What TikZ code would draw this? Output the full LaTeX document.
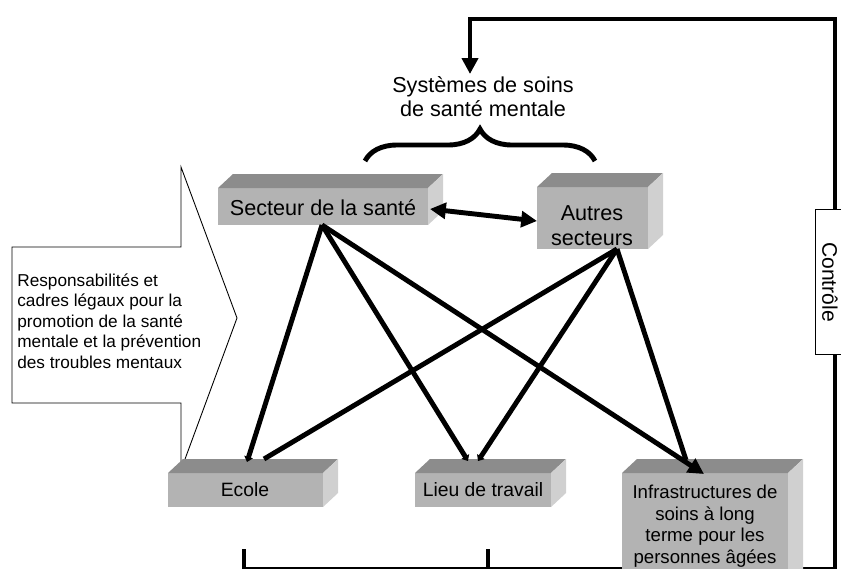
\documentclass[tikz,border=0pt]{standalone}
\usepackage{fontspec}
\setmainfont{Liberation Sans}
\usetikzlibrary{arrows.meta,decorations.pathreplacing}
\definecolor{topgray}{HTML}{8C8C8C}
\definecolor{frontgray}{HTML}{B3B3B3}
\definecolor{sidegray}{HTML}{D0D0D0}
\newcommand\slab[4]{%
  \fill[frontgray] (#1,#2) rectangle (#3,#4);
  \fill[topgray] (#1,#2) -- (#1+15,#2-14) -- (#3+15,#2-14) -- (#3,#2) -- cycle;
  \fill[sidegray] (#3,#2) -- (#3+15,#2-14) -- (#3+15,#4-14) -- (#3,#4) -- cycle;}
\begin{document}
\begin{tikzpicture}[x=0.02cm,y=-0.02cm,
    link/.style={line width=2.8pt},
    bighead/.style={-{Triangle[length=9pt,width=9pt]}},
    smallhead/.style={-{Triangle[length=3pt,width=5pt]}},
    boxtext/.style={inner sep=0pt,align=center,font=\fontsize{12.3}{14.2}\selectfont},
    smalltext/.style={inner sep=0pt,align=center,font=\fontsize{11}{13}\selectfont}]
  \useasboundingbox (0,0) rectangle (841,568);
  % callout
  \draw[fill=white,line width=0.5pt] (12,247) -- (181,247) -- (181,167) -- (237,318)
    -- (181,470) -- (181,403) -- (12,403) -- cycle;
  \node[inner sep=0pt,anchor=west,align=left,font=\fontsize{9.8}{11.6}\selectfont] (resp) at (17,321)
    {Responsabilités et\\cadres légaux pour la\\promotion de la santé\\mentale et la prévention\\des troubles mentaux};
  % control loop and base line
  \draw[link,bighead] (835,575) -- (835,19) -- (470,19) -- (470,74);
  \draw[link] (244,549) -- (244,569) -- (835,569);
  \draw[link] (488,549) -- (488,569);
  \node[draw,fill=white,line width=0.5pt,rotate=-90,minimum width=2.9cm,minimum height=0.6cm,
    font=\fontsize{12}{14}\selectfont] (ctrl) at (830,282) {Contrôle};
  % boxes
  \slab{218}{188}{428}{225}
  \slab{537}{187}{648}{249}
  \slab{168}{473}{323}{507}
  \slab{415}{473}{551}{507}
  \slab{622}{473}{788}{590}
  \node[boxtext] (sec) at (323,208) {Secteur de la santé};
  \node[boxtext,font=\fontsize{12.3}{14.4}\selectfont] (aut) at (592,226) {Autres\\secteurs};
  \node[smalltext] (eco) at (245,490) {Ecole};
  \node[smalltext] (lieu) at (483,490) {Lieu de travail};
  \node[inner sep=0pt,align=center,font=\fontsize{10.6}{12.3}\selectfont] (inf) at (705,526)
    {Infrastructures de\\soins à long\\terme pour les\\personnes âgées};
  \node[boxtext,font=\fontsize{12.3}{13.8}\selectfont] (sys) at (483,97) {Systèmes de soins\\de santé mentale};
  \draw[line width=2.8pt,decorate,decoration={brace,amplitude=0.64cm}] (365,161) -- (595,161);
  % links
  \coordinate (secfoot) at (322,225);
  \coordinate (autfoot) at (617,249);
  \coordinate (secside) at (430,209);
  \coordinate (autside) at (537,221);
  \coordinate (ecoA) at (247,462);
  \coordinate (ecoB) at (264,459);
  \coordinate (lieuA) at (468,461);
  \coordinate (lieuB) at (478,461);
  \coordinate (infA) at (704,474);
  \coordinate (infB) at (686,460);
  \draw[link,{Triangle[length=9pt,width=9pt]}-{Triangle[length=9pt,width=9pt]}] (secside) -- (autside);
  \draw[link,smallhead] (secfoot) -- (ecoA);
  \draw[link,smallhead] (secfoot) -- (lieuA);
  \draw[link,bighead] (secfoot) -- (infA);
  \draw[link] (autfoot) -- (ecoB);
  \draw[link,smallhead] (autfoot) -- (lieuB);
  \draw[link] (autfoot) -- (infB);
\end{tikzpicture}
\end{document}
